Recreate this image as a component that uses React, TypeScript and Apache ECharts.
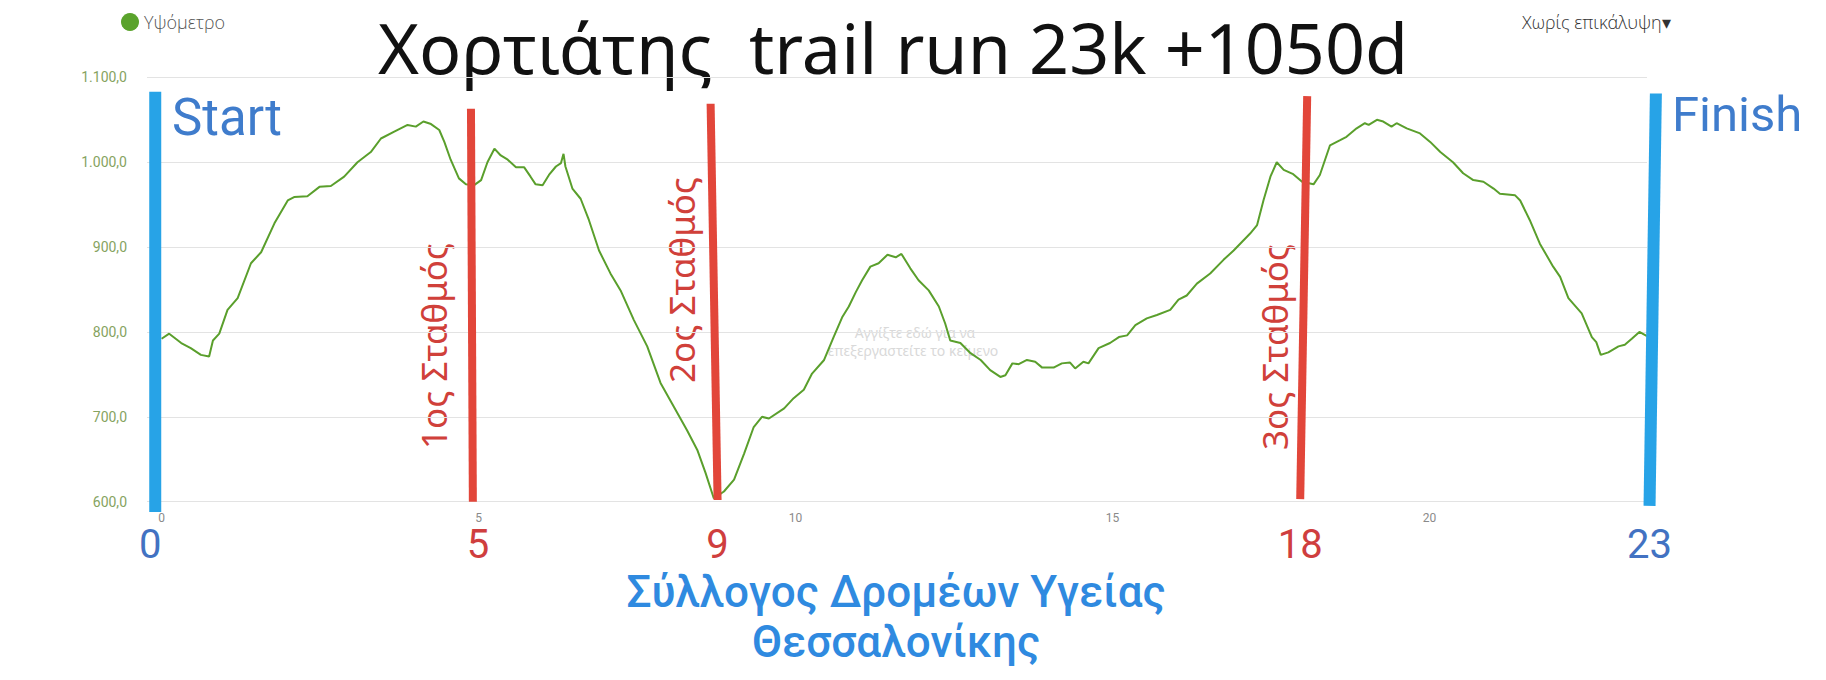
import React, { useEffect, useRef } from 'react';
import * as echarts from 'echarts';

// ---- Elevation profile (distance in km, elevation in m) ----
const distanceKm = [
  0.00, 0.12, 0.31, 0.46, 0.62, 0.75, 0.81, 0.91, 1.04, 1.20, 1.41, 1.57, 1.78, 1.99, 2.09, 2.30, 2.49, 2.67, 2.88, 3.09,
  3.30, 3.46, 3.67, 3.88, 4.01, 4.13, 4.25, 4.38, 4.46, 4.56, 4.69, 4.80, 4.93, 5.04, 5.14, 5.25, 5.35, 5.46, 5.59, 5.72,
  5.82, 5.90, 6.01, 6.11, 6.22, 6.30, 6.34, 6.37, 6.48, 6.61, 6.74, 6.90, 7.08, 7.24, 7.45, 7.66, 7.87, 8.08, 8.29, 8.45,
  8.58, 8.71, 8.87, 9.03, 9.19, 9.34, 9.47, 9.58, 9.82, 9.97, 10.13, 10.26, 10.45, 10.60, 10.74, 10.84, 10.95, 11.05, 11.18, 11.31,
  11.45, 11.58, 11.67, 11.81, 11.94, 12.10, 12.26, 12.36, 12.44, 12.60, 12.76, 12.92, 13.07, 13.23, 13.31, 13.42, 13.52, 13.65, 13.78, 13.89,
  14.07, 14.20, 14.33, 14.41, 14.54, 14.62, 14.78, 14.96, 15.10, 15.23, 15.36, 15.54, 15.70, 15.91, 16.04, 16.17, 16.33, 16.54, 16.75, 16.91,
  17.04, 17.17, 17.28, 17.38, 17.49, 17.59, 17.70, 17.85, 17.99, 18.17, 18.27, 18.43, 18.59, 18.69, 18.85, 18.98, 19.04, 19.17, 19.27, 19.40,
  19.48, 19.64, 19.85, 20.01, 20.17, 20.37, 20.53, 20.69, 20.85, 21.01, 21.11, 21.35, 21.43, 21.58, 21.74, 21.95, 22.06, 22.19, 22.40, 22.56,
  22.63, 22.70, 22.82, 22.98, 23.08, 23.19, 23.31, 23.43,
];
const elevationM = [
  792, 798, 787, 781, 773, 771, 790, 798, 826, 840, 881, 894, 928, 955, 959, 960, 971, 972, 983, 1000,
  1012, 1028, 1036, 1044, 1042, 1048, 1045, 1038, 1024, 1003, 981, 974, 973, 979, 1000, 1016, 1008, 1003, 994, 994,
  983, 974, 973, 985, 995, 999, 1010, 995, 969, 957, 932, 896, 869, 849, 814, 783, 740, 712, 684, 661,
  634, 604, 612, 626, 657, 688, 700, 698, 710, 722, 732, 751, 767, 794, 818, 830, 847, 861, 877, 881,
  891, 888, 892, 875, 861, 849, 830, 810, 790, 787, 775, 767, 755, 747, 749, 763, 762, 767, 765, 758,
  758, 763, 764, 757, 765, 763, 781, 787, 794, 796, 808, 816, 820, 826, 838, 843, 857, 869, 885, 896,
  906, 916, 926, 955, 983, 1000, 991, 986, 977, 974, 985, 1020, 1026, 1030, 1040, 1046, 1044, 1050, 1048, 1042,
  1046, 1040, 1034, 1024, 1012, 1000, 987, 979, 977, 969, 963, 961, 955, 932, 904, 877, 865, 840, 822, 794,
  788, 773, 776, 783, 785, 792, 800, 795,
];

// ---- Axes ----
const xTickValues = [0, 5, 10, 15, 20];
const xMin = -0.23;
const xMax = 23.43;
const yMin = 600;
const yMax = 1100;
const yStep = 100;

// ---- Course markers (start, aid stations, finish) ----
const markerKmLabels = ['0', '5', '9', '18', '23'];
const markerKmTop = [-0.10, 4.88, 8.66, 18.07, 23.57];
const markerKmBottom = [-0.10, 4.91, 8.77, 17.96, 23.47];
const markerElevTop = [1083, 1063, 1069, 1078, 1081];
const markerElevBottom = [588, 600, 602, 603, 595];

const stationNames = ['1ος Σταθμός', '2ος Σταθμός', '3ος Σταθμός'];

const formatElev = (v: number) => {
  const s = Math.round(v).toString().replace(/\B(?=(\d{3})+(?!\d))/g, '.');
  return s + ',0';
};

export default function App() {
  const ref = useRef<HTMLDivElement>(null);

  useEffect(() => {
    if (!ref.current) return;
    const chart = echarts.init(ref.current, undefined, { renderer: 'svg' });
    const lineData = distanceKm.map((d, i) => [d, elevationM[i]]);
    const markerData = markerKmLabels.map((_, i) => [
      markerKmTop[i], markerElevTop[i], markerKmBottom[i], markerElevBottom[i],
    ]);
    const last = markerKmLabels.length - 1;

    const option: any = {
      animation: false,
      backgroundColor: '#ffffff',
      grid: { left: 147, right: 179, top: 77.4, bottom: 178.3 },
      legend: {
        data: ['Υψόμετρο'],
        left: 121,
        top: 13,
        padding: 0,
        icon: 'circle',
        itemWidth: 18,
        itemHeight: 18,
        itemGap: 6,
        textStyle: { fontSize: 18, color: '#555', fontFamily: 'Open Sans', fontWeight: 300 },
      },
      xAxis: {
        type: 'value',
        min: xMin,
        max: xMax,
        axisLine: { show: false },
        axisTick: { show: false },
        splitLine: { show: false },
        axisLabel: {
          customValues: xTickValues,
          color: '#8a8a8a',
          fontSize: 12,
          margin: 10,
          fontFamily: 'Roboto',
        },
      },
      yAxis: {
        type: 'value',
        min: yMin,
        max: yMax,
        interval: yStep,
        axisLine: { show: false },
        axisTick: { show: false },
        splitLine: { lineStyle: { color: '#e3e3e3', width: 1 } },
        axisLabel: {
          formatter: formatElev,
          color: '#86a35f',
          fontSize: 14,
          margin: 20,
          fontFamily: 'Roboto',
        },
      },
      series: [
        {
          name: 'Υψόμετρο',
          type: 'line',
          data: lineData,
          showSymbol: false,
          symbol: 'none',
          smooth: false,
          itemStyle: { color: '#5aa32c' },
          lineStyle: { color: '#5a9f2c', width: 2 },
          z: 2,
        },
        {
          name: 'markers',
          type: 'custom',
          data: markerData,
          encode: { x: [0, 2], y: [1, 3] },
          clip: false,
          z: 5,
          renderItem: (params: any, api: any) => {
            const i = params.dataIndex;
            const p1 = api.coord([api.value(0), api.value(1)]);
            const p2 = api.coord([api.value(2), api.value(3)]);
            const base = api.coord([api.value(2), yMin]);
            const isEnd = i === 0 || i === last;
            return {
              type: 'group',
              children: [
                {
                  type: 'line',
                  shape: { x1: p1[0], y1: p1[1], x2: p2[0], y2: p2[1] },
                  style: { stroke: isEnd ? '#27a3e7' : '#e2463a', lineWidth: isEnd ? 12 : 8 },
                },
                {
                  type: 'text',
                  x: p2[0] + (i === 0 ? -5 : i === 1 ? 5 : 0),
                  y: base[1] + 43,
                  style: {
                    text: markerKmLabels[i],
                    fill: isEnd ? '#4272c2' : '#cf3e3e',
                    fontSize: 40,
                    fontFamily: 'Roboto',
                    align: 'center',
                    verticalAlign: 'middle',
                  },
                },
              ],
            };
          },
        },
      ],
      graphic: [
        {
          type: 'text', x: 893, y: 47,
          style: {
            text: 'Χορτιάτης  trail run 23k +1050d', fill: '#111',
            fontSize: 70, fontFamily: 'Noto Sans', align: 'center', verticalAlign: 'middle',
          },
        },
        {
          type: 'text', x: 1522, y: 22,
          style: {
            text: 'Χωρίς επικάλυψη▾', fill: '#333',
            fontSize: 18, fontFamily: 'Open Sans', fontWeight: 300, align: 'left', verticalAlign: 'middle',
          },
        },
        {
          type: 'text', x: 172, y: 117,
          style: { text: 'Start', fill: '#3f7ccc', fontSize: 51, fontFamily: 'Roboto', align: 'left', verticalAlign: 'middle' },
        },
        {
          type: 'text', x: 1672, y: 114,
          style: { text: 'Finish', fill: '#3f7ccc', fontSize: 49, fontFamily: 'Roboto', align: 'left', verticalAlign: 'middle' },
        },
        {
          type: 'text', x: 433, y: 346, rotation: Math.PI / 2,
          style: { text: stationNames[0], fill: '#d0403a', fontSize: 35, fontFamily: 'Noto Sans', align: 'center', verticalAlign: 'middle' },
        },
        {
          type: 'text', x: 681, y: 280, rotation: Math.PI / 2,
          style: { text: stationNames[1], fill: '#d0403a', fontSize: 35, fontFamily: 'Noto Sans', align: 'center', verticalAlign: 'middle' },
        },
        {
          type: 'text', x: 1274, y: 347, rotation: Math.PI / 2,
          style: { text: stationNames[2], fill: '#d0403a', fontSize: 35, fontFamily: 'Noto Sans', align: 'center', verticalAlign: 'middle' },
        },
        {
          type: 'text', x: 915, y: 332,
          style: { text: 'Αγγίξτε εδώ για να', fill: '#d9d9d9', fontSize: 14, fontFamily: 'Noto Sans', align: 'center', verticalAlign: 'middle' },
        },
        {
          type: 'text', x: 913, y: 350,
          style: { text: 'επεξεργαστείτε το κείμενο', fill: '#d9d9d9', fontSize: 14, fontFamily: 'Noto Sans', align: 'center', verticalAlign: 'middle' },
        },
        {
          type: 'text', x: 896, y: 592,
          style: { text: 'Σύλλογος Δρομέων Υγείας', fill: '#2f8ae0', fontSize: 44, fontWeight: 500, fontFamily: 'Roboto', align: 'center', verticalAlign: 'middle' },
        },
        {
          type: 'text', x: 896, y: 642,
          style: { text: 'Θεσσαλονίκης', fill: '#2f8ae0', fontSize: 44, fontWeight: 500, fontFamily: 'Roboto', align: 'center', verticalAlign: 'middle' },
        },
      ],
    };
    chart.setOption(option);
    return () => chart.dispose();
  }, []);

  return (
    <div
      ref={ref}
      style={{ position: 'fixed', left: 0, top: 0, width: 1826, height: 680, background: '#fff' }}
    />
  );
}
